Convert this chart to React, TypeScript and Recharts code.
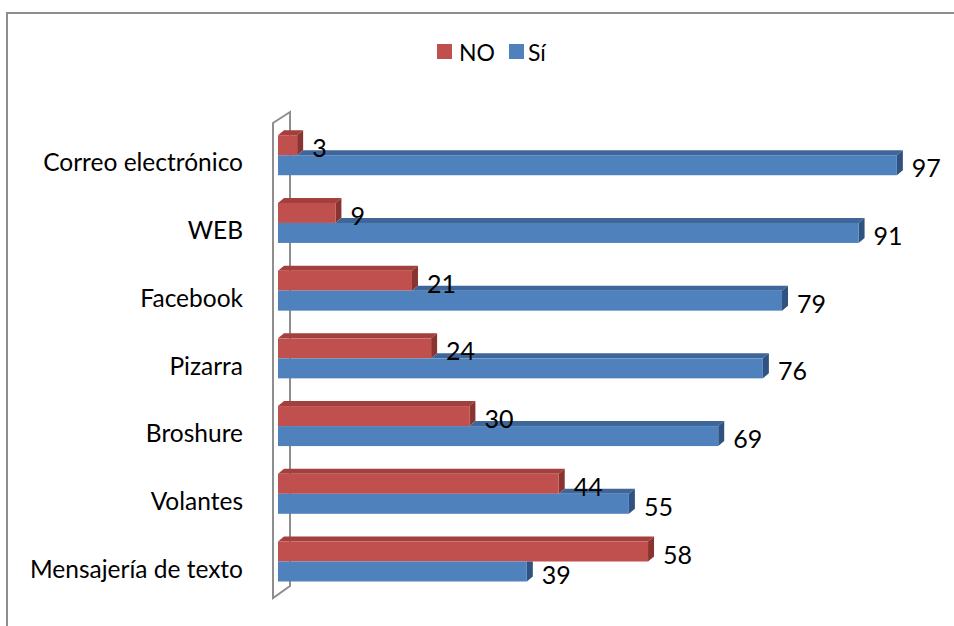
import { BarChart, Bar, XAxis, YAxis, LabelList } from 'recharts';

// ─── Data ─────────────────────────────────────────────────────────────────────

const categories = [
  'Correo electrónico',
  'WEB',
  'Facebook',
  'Pizarra',
  'Broshure',
  'Volantes',
  'Mensajería de texto',
];
const noValues = [3, 9, 21, 24, 30, 44, 58];
const siValues = [97, 91, 79, 76, 69, 55, 39];
const seriesNames = ['NO', 'Sí'];

const data = categories.map((name, i) => ({ name, no: noValues[i], si: siValues[i] }));

// ─── Layout / colours ─────────────────────────────────────────────────────────

const W = 954;
const H = 626;
const PLOT_LEFT = 278;
const PLOT_RIGHT = 916;
const PLOT_TOP = 121;
const PLOT_BOTTOM = 595;

const RED = '#C0504D';
const RED_TOP = '#A33F3C';
const RED_SIDE = '#8A3431';
const BLUE = '#4F81BD';
const BLUE_TOP = '#3E6699';
const BLUE_SIDE = '#2F5280';
const GRID = '#8E8E8E';

const FONT = 'Lato, "Open Sans", sans-serif';
const DX = 6; // 3D depth
const DY = 5;
const LABEL_GAP = 15;

// ─── Bar shapes ───────────────────────────────────────────────────────────────

function NoShape(props: any) {
  const { x, y, width, height } = props;
  if (width == null || height == null) return null;
  const x2 = x + width;
  return (
    <g>
      <polygon points={`${x},${y} ${x + DX},${y - DY} ${x2 + DX},${y - DY} ${x2},${y}`} fill={RED_TOP} />
      <polygon points={`${x2},${y} ${x2 + DX},${y - DY} ${x2 + DX},${y + height - DY} ${x2},${y + height}`} fill={RED_SIDE} />
      <rect x={x} y={y} width={width} height={height} fill={RED} />
    </g>
  );
}

// blue bar sits below the red one, so its top face is hidden where red covers it
function SiShape(props: any) {
  const { x, y, width, height, payload } = props;
  if (width == null || height == null) return null;
  const x2 = x + width;
  const redEnd = x + (payload.no * width) / payload.si;
  const faces =
    redEnd < x2 ? (
      <>
        <polygon points={`${redEnd},${y} ${redEnd + DX},${y - DY} ${x2 + DX},${y - DY} ${x2},${y}`} fill={BLUE_TOP} />
        <polygon points={`${x2},${y} ${x2 + DX},${y - DY} ${x2 + DX},${y + height - DY} ${x2},${y + height}`} fill={BLUE_SIDE} />
      </>
    ) : (
      <polygon points={`${x2},${y} ${x2 + DX},${y} ${x2 + DX},${y + height - DY} ${x2},${y + height}`} fill={BLUE_SIDE} />
    );
  return (
    <g>
      {faces}
      <rect x={x} y={y} width={width} height={height} fill={BLUE} />
    </g>
  );
}

// ─── Labels ───────────────────────────────────────────────────────────────────

function boxOf(p: any) {
  const v = p.viewBox;
  return v && typeof v.width === 'number' ? v : p;
}

function SiLabel(p: any) {
  const { x, y, width, height } = boxOf(p);
  return (
    <text x={x + width + LABEL_GAP} y={y + height / 2 + 2} dominantBaseline="central"
      fontSize={25} fontFamily={FONT} fill="#000">
      {p.value}
    </text>
  );
}

// drawn from the blue bar so it stays above the blue 3D faces
function NoLabel(p: any) {
  const { x, y, width, height } = boxOf(p);
  const i = p.index ?? 0;
  const redEnd = x + (noValues[i] * width) / siValues[i];
  return (
    <text x={redEnd + LABEL_GAP} y={y - height / 2 + 2} dominantBaseline="central"
      fontSize={25} fontFamily={FONT} fill="#000">
      {noValues[i]}
    </text>
  );
}

function CategoryTick(p: any) {
  return (
    <text x={PLOT_LEFT - 35} y={p.y + 7} textAnchor="end" dominantBaseline="central"
      fontSize={24.5} fontFamily={FONT} fill="#000">
      {p.payload.value}
    </text>
  );
}

// ─── App ──────────────────────────────────────────────────────────────────────

export default function App() {
  return (
    <div style={{ position: 'fixed', left: 0, top: 0, width: W, height: H, overflow: 'hidden', background: '#fff' }}>
      {/* frame, axis wall and legend */}
      <svg width={W} height={H} style={{ position: 'absolute', left: 0, top: 0 }}>
        <rect x={7} y={13} width={1000} height={700} fill="none" stroke={GRID} strokeWidth={2} />
        <path
          d={`M${PLOT_LEFT - 5},${PLOT_TOP + 2} L${PLOT_LEFT - 5},${PLOT_BOTTOM + 3} L${PLOT_LEFT + 12},${PLOT_BOTTOM - 9} L${PLOT_LEFT + 12},${PLOT_TOP - 9} Z`}
          fill="none" stroke={GRID} strokeWidth={2}
        />
        <rect x={437} y={44} width={15} height={15} fill={RED} />
        <text x={459} y={52} dominantBaseline="central" fontSize={23} fontFamily={FONT}>{seriesNames[0]}</text>
        <rect x={509} y={44} width={15} height={15} fill={BLUE} />
        <text x={528} y={52} dominantBaseline="central" fontSize={23} fontFamily={FONT}>{seriesNames[1]}</text>
      </svg>

      <div style={{ position: 'absolute', left: 0, top: 0 }}>
        <BarChart
          width={W}
          height={H}
          data={data}
          layout="vertical"
          margin={{ top: PLOT_TOP, right: W - PLOT_RIGHT, bottom: H - PLOT_BOTTOM, left: 0 }}
          barCategoryGap="21%"
          barGap={0}
        >
          <XAxis type="number" domain={[0, 100]} hide />
          <YAxis
            type="category"
            dataKey="name"
            width={PLOT_LEFT}
            axisLine={false}
            tickLine={false}
            interval={0}
            tick={CategoryTick}
          />
          <Bar dataKey="no" name={seriesNames[0]} fill={RED} shape={NoShape} isAnimationActive={false} />
          <Bar dataKey="si" name={seriesNames[1]} fill={BLUE} shape={SiShape} isAnimationActive={false}>
            <LabelList dataKey="si" content={SiLabel} />
            <LabelList dataKey="no" content={NoLabel} />
          </Bar>
        </BarChart>
      </div>
    </div>
  );
}
